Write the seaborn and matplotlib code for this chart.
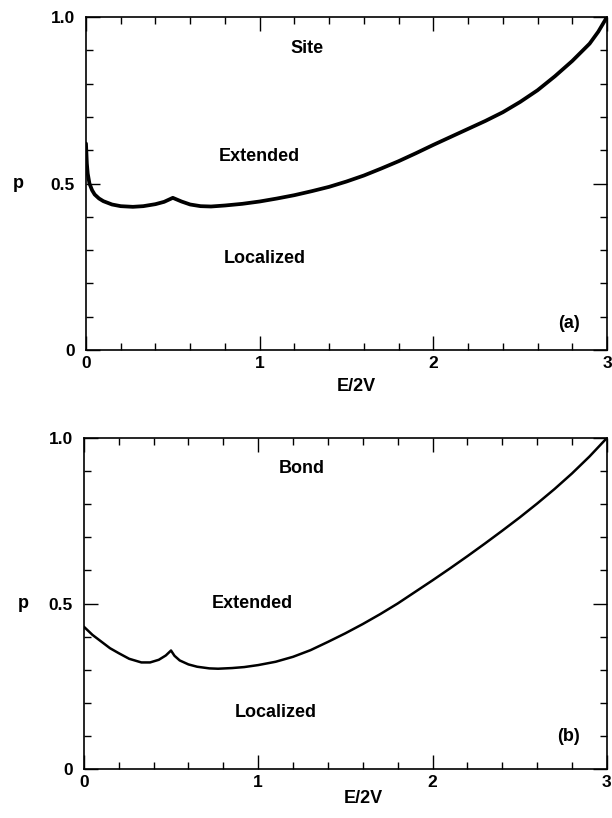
import numpy as np
import pandas as pd
import seaborn as sns
import matplotlib.pyplot as plt
from matplotlib.ticker import MultipleLocator, FixedLocator

# site percolation threshold curve (panel a)
site_e = [0.0, 0.005, 0.01, 0.02, 0.035, 0.05, 0.075, 0.1, 0.15, 0.2, 0.27, 0.33, 0.4, 0.45, 0.5,
          0.55, 0.6, 0.66, 0.72, 0.8, 0.9, 1.0, 1.1, 1.2, 1.3, 1.4, 1.5, 1.6, 1.7, 1.8, 1.9,
          2.0, 2.1, 2.2, 2.3, 2.4, 2.5, 2.6, 2.7, 2.8, 2.9, 2.95, 3.0]
site_p = [0.62, 0.56, 0.53, 0.50, 0.48, 0.467, 0.455, 0.447, 0.437, 0.432, 0.430, 0.432, 0.438, 0.445, 0.457,
          0.446, 0.437, 0.432, 0.431, 0.434, 0.439, 0.446, 0.455, 0.465, 0.477, 0.490, 0.506, 0.524, 0.545, 0.567, 0.591,
          0.616, 0.640, 0.664, 0.688, 0.714, 0.745, 0.780, 0.822, 0.868, 0.920, 0.956, 1.0]

# bond percolation threshold curve (panel b)
bond_e = [0.0, 0.05, 0.1, 0.15, 0.2, 0.26, 0.33, 0.38, 0.43, 0.47, 0.5, 0.52, 0.55, 0.6, 0.65, 0.72, 0.77,
          0.85, 0.92, 1.0, 1.1, 1.2, 1.3, 1.4, 1.5, 1.6, 1.7, 1.8, 1.9, 2.0, 2.1, 2.2, 2.3, 2.4,
          2.5, 2.6, 2.7, 2.8, 2.9, 3.0]
bond_p = [0.43, 0.405, 0.385, 0.365, 0.35, 0.333, 0.322, 0.322, 0.33, 0.343, 0.358, 0.342, 0.328, 0.316, 0.309, 0.304, 0.303,
          0.305, 0.308, 0.314, 0.324, 0.339, 0.359, 0.384, 0.410, 0.438, 0.468, 0.500, 0.535, 0.570, 0.606, 0.643, 0.681, 0.720,
          0.760, 0.802, 0.846, 0.893, 0.944, 1.0]

panels = [
    dict(e=site_e, p=site_p, lw=2.7,
         labels=[("Site", 1.27, 0.905), ("Extended", 1.0, 0.58), ("Localized", 1.03, 0.275), ("(a)", 2.78, 0.08)],
         rect=[0.1405, 0.5721, 0.8513, 0.4071], plab=(-0.13, 0.5), elab=(0.518, -0.11)),
    dict(e=bond_e, p=bond_p, lw=1.8,
         labels=[("Bond", 1.25, 0.909), ("Extended", 0.965, 0.50), ("Localized", 1.10, 0.17), ("(b)", 2.78, 0.097)],
         rect=[0.137, 0.0599, 0.8546, 0.4046], plab=(-0.115, 0.5), elab=(0.534, -0.088)),
]

sns.set_theme(style="ticks")
plt.rcParams['font.family'] = ['Liberation Sans', 'DejaVu Sans']
plt.rcParams['font.weight'] = 'bold'
plt.rcParams['text.color'] = 'black'
plt.rcParams['axes.labelcolor'] = 'black'
plt.rcParams['xtick.color'] = 'black'
plt.rcParams['ytick.color'] = 'black'

fig = plt.figure(figsize=(6.12, 8.18), dpi=100)

for pan in panels:
    ax = fig.add_axes(pan["rect"])
    df = pd.DataFrame({"E/2V": pan["e"], "p": pan["p"]})
    sns.lineplot(data=df, x="E/2V", y="p", ax=ax, color="black", linewidth=pan["lw"],
                 sort=False, estimator=None)
    ax.set_xlim(0, 3)
    ax.set_ylim(0, 1)
    ax.xaxis.set_major_locator(FixedLocator([0, 1, 2, 3]))
    ax.xaxis.set_minor_locator(MultipleLocator(0.2))
    ax.yaxis.set_major_locator(FixedLocator([0, 0.5, 1.0]))
    ax.yaxis.set_minor_locator(MultipleLocator(0.1))
    ax.set_xticklabels(["0", "1", "2", "3"], fontsize=12.5, fontweight="bold")
    ax.set_yticklabels(["0", "0.5", "1.0"], fontsize=12.5, fontweight="bold")
    ax.tick_params(which="both", direction="in", top=True, right=True, width=1.0, color="black")
    ax.tick_params(which="major", length=10)
    ax.tick_params(which="minor", length=5)
    ax.tick_params(axis="y", which="major", pad=8)
    ax.tick_params(axis="x", which="major", pad=4)
    for s in ax.spines.values():
        s.set_linewidth(1.2)
        s.set_color("black")
    ax.set_ylabel("p", rotation=0, fontsize=13, fontweight="bold")
    ax.yaxis.set_label_coords(*pan["plab"])
    ax.set_xlabel("E/2V", fontsize=13, fontweight="bold")
    ax.xaxis.set_label_coords(*pan["elab"])
    ax.xaxis.label.set_va("center")
    ax.yaxis.label.set_va("center")
    for txt, x, y in pan["labels"]:
        ax.text(x, y, txt, ha="center", va="center", fontsize=13, fontweight="bold")

fig.savefig("out.png", dpi=100)
